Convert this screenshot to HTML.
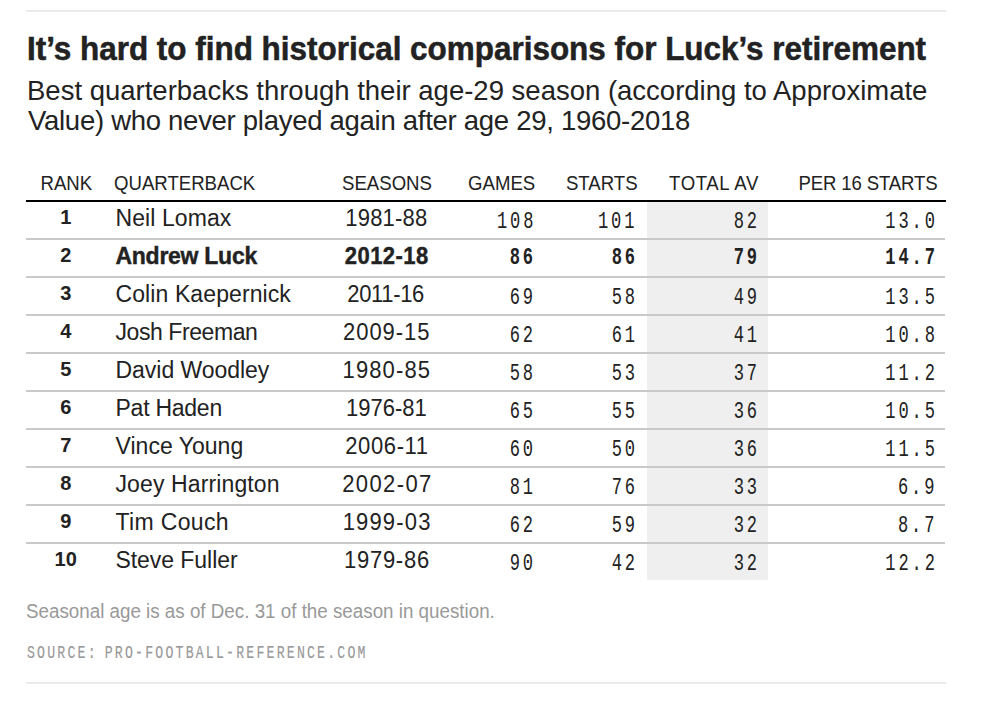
<!DOCTYPE html>
<html><head><meta charset="utf-8"><style>
html,body{margin:0;padding:0;background:#fff;}
body{width:982px;height:718px;position:relative;overflow:hidden;font-family:"Liberation Sans", sans-serif;}
.t{position:absolute;white-space:nowrap;line-height:normal;}
.r{position:absolute;}
</style></head><body>
<div class="r" style="left:26px;top:10px;width:920px;height:2px;background:#ebebeb"></div>
<div class="t" style="top:31.54px;font-size:31.45px;font-family:'Liberation Sans', sans-serif;font-weight:700;color:#222;left:27.00px;-webkit-text-stroke:0.5px #222;transform:scale(1,1.05);transform-origin:0 28.46px;">It’s hard to find historical comparisons for Luck’s retirement</div>
<div class="t" style="top:74.71px;font-size:27.5px;font-family:'Liberation Sans', sans-serif;font-weight:400;color:#222;left:27.00px;">Best quarterbacks through their age-29 season (according to Approximate</div>
<div class="t" style="top:104.71px;font-size:27.5px;font-family:'Liberation Sans', sans-serif;font-weight:400;color:#222;letter-spacing:-0.28px;left:28.00px;">Value) who never played again after age 29, 1960-2018</div>
<div class="r" style="left:647px;top:202px;width:121px;height:378px;background:#efefef"></div>
<div class="t" style="top:173.17px;font-size:18.6px;font-family:'Liberation Sans', sans-serif;font-weight:400;color:#222;left:-83.70px;width:300px;text-align:center;transform:scale(1,1.05);transform-origin:50% 16.83px;">RANK</div>
<div class="t" style="top:173.17px;font-size:18.6px;font-family:'Liberation Sans', sans-serif;font-weight:400;color:#222;left:114.00px;transform:scale(1,1.05);transform-origin:0 16.83px;">QUARTERBACK</div>
<div class="t" style="top:173.17px;font-size:18.6px;font-family:'Liberation Sans', sans-serif;font-weight:400;color:#222;left:237.00px;width:300px;text-align:center;transform:scale(1,1.05);transform-origin:50% 16.83px;">SEASONS</div>
<div class="t" style="top:173.17px;font-size:18.6px;font-family:'Liberation Sans', sans-serif;font-weight:400;color:#222;right:446.80px;text-align:right;transform:scale(1,1.05);transform-origin:100% 16.83px;">GAMES</div>
<div class="t" style="top:173.17px;font-size:18.6px;font-family:'Liberation Sans', sans-serif;font-weight:400;color:#222;right:344.40px;text-align:right;transform:scale(1,1.05);transform-origin:100% 16.83px;">STARTS</div>
<div class="t" style="top:173.17px;font-size:18.6px;font-family:'Liberation Sans', sans-serif;font-weight:400;color:#222;letter-spacing:0.6px;right:223.00px;text-align:right;transform:scale(1,1.05);transform-origin:100% 16.83px;">TOTAL AV</div>
<div class="t" style="top:173.17px;font-size:18.6px;font-family:'Liberation Sans', sans-serif;font-weight:400;color:#222;letter-spacing:-0.15px;right:44.60px;text-align:right;transform:scale(1,1.05);transform-origin:100% 16.83px;">PER 16 STARTS</div>
<div class="r" style="left:26px;top:200px;width:920px;height:2px;background:#000"></div>
<div class="r" style="left:26px;top:238px;width:919px;height:2px;background:#c9c9c9"></div>
<div class="r" style="left:26px;top:276px;width:919px;height:2px;background:#c9c9c9"></div>
<div class="r" style="left:26px;top:314px;width:919px;height:2px;background:#c9c9c9"></div>
<div class="r" style="left:26px;top:352px;width:919px;height:2px;background:#c9c9c9"></div>
<div class="r" style="left:26px;top:390px;width:919px;height:2px;background:#c9c9c9"></div>
<div class="r" style="left:26px;top:428px;width:919px;height:2px;background:#c9c9c9"></div>
<div class="r" style="left:26px;top:466px;width:919px;height:2px;background:#c9c9c9"></div>
<div class="r" style="left:26px;top:504px;width:919px;height:2px;background:#c9c9c9"></div>
<div class="r" style="left:26px;top:542px;width:919px;height:2px;background:#c9c9c9"></div>
<div class="t" style="top:205.90px;font-size:20px;font-family:'Liberation Sans', sans-serif;font-weight:700;color:#222;left:-84.30px;width:300px;text-align:center;">1</div>
<div class="t" style="top:205.19px;font-size:23.0px;font-family:'Liberation Sans', sans-serif;font-weight:400;color:#222;letter-spacing:0.078px;left:115.50px;">Neil Lomax</div>
<div class="t" style="top:206.09px;font-size:22px;font-family:'Liberation Sans', sans-serif;font-weight:400;color:#222;letter-spacing:0.22px;left:236.36px;width:300px;text-align:center;transform:scale(1,1.07);transform-origin:50% 19.91px;">1981-88</div>
<div class="t" style="top:211.26px;font-size:20.1px;font-family:'Liberation Mono', monospace;font-weight:400;color:#222;letter-spacing:3.4px;right:445.80px;text-align:right;transform:scale(0.85,1.15);transform-origin:100% 16.74px;">108</div>
<div class="t" style="top:211.26px;font-size:20.1px;font-family:'Liberation Mono', monospace;font-weight:400;color:#222;letter-spacing:3.4px;right:344.30px;text-align:right;transform:scale(0.85,1.15);transform-origin:100% 16.74px;">101</div>
<div class="t" style="top:211.26px;font-size:20.1px;font-family:'Liberation Mono', monospace;font-weight:400;color:#222;letter-spacing:3.4px;right:221.80px;text-align:right;transform:scale(0.85,1.15);transform-origin:100% 16.74px;">82</div>
<div class="t" style="top:211.26px;font-size:20.1px;font-family:'Liberation Mono', monospace;font-weight:400;color:#222;letter-spacing:3.4px;right:44.40px;text-align:right;transform:scale(0.85,1.15);transform-origin:100% 16.74px;">13.0</div>
<div class="t" style="top:243.90px;font-size:20px;font-family:'Liberation Sans', sans-serif;font-weight:700;color:#222;left:-84.30px;width:300px;text-align:center;">2</div>
<div class="t" style="top:243.19px;font-size:23.0px;font-family:'Liberation Sans', sans-serif;font-weight:700;color:#222;letter-spacing:-0.27px;left:115.50px;-webkit-text-stroke:0.4px #222;">Andrew Luck</div>
<div class="t" style="top:244.09px;font-size:22px;font-family:'Liberation Sans', sans-serif;font-weight:700;color:#222;letter-spacing:0.43px;left:236.72px;width:300px;text-align:center;-webkit-text-stroke:0.4px #222;transform:scale(1,1.07);transform-origin:50% 19.91px;">2012-18</div>
<div class="t" style="top:247.46px;font-size:20.1px;font-family:'Liberation Mono', monospace;font-weight:700;color:#222;letter-spacing:3.4px;right:445.80px;text-align:right;transform:scale(0.85,1.15);transform-origin:100% 16.74px;">86</div>
<div class="t" style="top:247.46px;font-size:20.1px;font-family:'Liberation Mono', monospace;font-weight:700;color:#222;letter-spacing:3.4px;right:344.30px;text-align:right;transform:scale(0.85,1.15);transform-origin:100% 16.74px;">86</div>
<div class="t" style="top:247.46px;font-size:20.1px;font-family:'Liberation Mono', monospace;font-weight:700;color:#222;letter-spacing:3.4px;right:221.80px;text-align:right;transform:scale(0.85,1.15);transform-origin:100% 16.74px;">79</div>
<div class="t" style="top:247.46px;font-size:20.1px;font-family:'Liberation Mono', monospace;font-weight:700;color:#222;letter-spacing:3.4px;right:44.40px;text-align:right;transform:scale(0.85,1.15);transform-origin:100% 16.74px;">14.7</div>
<div class="t" style="top:281.90px;font-size:20px;font-family:'Liberation Sans', sans-serif;font-weight:700;color:#222;left:-84.30px;width:300px;text-align:center;">3</div>
<div class="t" style="top:281.19px;font-size:23.0px;font-family:'Liberation Sans', sans-serif;font-weight:400;color:#222;letter-spacing:0.1px;left:115.50px;">Colin Kaepernick</div>
<div class="t" style="top:282.09px;font-size:22px;font-family:'Liberation Sans', sans-serif;font-weight:400;color:#222;letter-spacing:-0.35px;left:235.67px;width:300px;text-align:center;transform:scale(1,1.07);transform-origin:50% 19.91px;">2011-16</div>
<div class="t" style="top:287.26px;font-size:20.1px;font-family:'Liberation Mono', monospace;font-weight:400;color:#222;letter-spacing:3.4px;right:445.80px;text-align:right;transform:scale(0.85,1.15);transform-origin:100% 16.74px;">69</div>
<div class="t" style="top:287.26px;font-size:20.1px;font-family:'Liberation Mono', monospace;font-weight:400;color:#222;letter-spacing:3.4px;right:344.30px;text-align:right;transform:scale(0.85,1.15);transform-origin:100% 16.74px;">58</div>
<div class="t" style="top:287.26px;font-size:20.1px;font-family:'Liberation Mono', monospace;font-weight:400;color:#222;letter-spacing:3.4px;right:221.80px;text-align:right;transform:scale(0.85,1.15);transform-origin:100% 16.74px;">49</div>
<div class="t" style="top:287.26px;font-size:20.1px;font-family:'Liberation Mono', monospace;font-weight:400;color:#222;letter-spacing:3.4px;right:44.40px;text-align:right;transform:scale(0.85,1.15);transform-origin:100% 16.74px;">13.5</div>
<div class="t" style="top:319.90px;font-size:20px;font-family:'Liberation Sans', sans-serif;font-weight:700;color:#222;left:-84.30px;width:300px;text-align:center;">4</div>
<div class="t" style="top:319.19px;font-size:23.0px;font-family:'Liberation Sans', sans-serif;font-weight:400;color:#222;letter-spacing:-0.427px;left:115.50px;">Josh Freeman</div>
<div class="t" style="top:320.09px;font-size:22px;font-family:'Liberation Sans', sans-serif;font-weight:400;color:#222;letter-spacing:0.95px;left:236.72px;width:300px;text-align:center;transform:scale(1,1.07);transform-origin:50% 19.91px;">2009-15</div>
<div class="t" style="top:325.26px;font-size:20.1px;font-family:'Liberation Mono', monospace;font-weight:400;color:#222;letter-spacing:3.4px;right:445.80px;text-align:right;transform:scale(0.85,1.15);transform-origin:100% 16.74px;">62</div>
<div class="t" style="top:325.26px;font-size:20.1px;font-family:'Liberation Mono', monospace;font-weight:400;color:#222;letter-spacing:3.4px;right:344.30px;text-align:right;transform:scale(0.85,1.15);transform-origin:100% 16.74px;">61</div>
<div class="t" style="top:325.26px;font-size:20.1px;font-family:'Liberation Mono', monospace;font-weight:400;color:#222;letter-spacing:3.4px;right:221.80px;text-align:right;transform:scale(0.85,1.15);transform-origin:100% 16.74px;">41</div>
<div class="t" style="top:325.26px;font-size:20.1px;font-family:'Liberation Mono', monospace;font-weight:400;color:#222;letter-spacing:3.4px;right:44.40px;text-align:right;transform:scale(0.85,1.15);transform-origin:100% 16.74px;">10.8</div>
<div class="t" style="top:357.90px;font-size:20px;font-family:'Liberation Sans', sans-serif;font-weight:700;color:#222;left:-84.30px;width:300px;text-align:center;">5</div>
<div class="t" style="top:357.19px;font-size:23.0px;font-family:'Liberation Sans', sans-serif;font-weight:400;color:#222;letter-spacing:-0.033px;left:115.50px;">David Woodley</div>
<div class="t" style="top:358.09px;font-size:22px;font-family:'Liberation Sans', sans-serif;font-weight:400;color:#222;letter-spacing:1.1px;left:236.85px;width:300px;text-align:center;transform:scale(1,1.07);transform-origin:50% 19.91px;">1980-85</div>
<div class="t" style="top:363.26px;font-size:20.1px;font-family:'Liberation Mono', monospace;font-weight:400;color:#222;letter-spacing:3.4px;right:445.80px;text-align:right;transform:scale(0.85,1.15);transform-origin:100% 16.74px;">58</div>
<div class="t" style="top:363.26px;font-size:20.1px;font-family:'Liberation Mono', monospace;font-weight:400;color:#222;letter-spacing:3.4px;right:344.30px;text-align:right;transform:scale(0.85,1.15);transform-origin:100% 16.74px;">53</div>
<div class="t" style="top:363.26px;font-size:20.1px;font-family:'Liberation Mono', monospace;font-weight:400;color:#222;letter-spacing:3.4px;right:221.80px;text-align:right;transform:scale(0.85,1.15);transform-origin:100% 16.74px;">37</div>
<div class="t" style="top:363.26px;font-size:20.1px;font-family:'Liberation Mono', monospace;font-weight:400;color:#222;letter-spacing:3.4px;right:44.40px;text-align:right;transform:scale(0.85,1.15);transform-origin:100% 16.74px;">11.2</div>
<div class="t" style="top:395.90px;font-size:20px;font-family:'Liberation Sans', sans-serif;font-weight:700;color:#222;left:-84.30px;width:300px;text-align:center;">6</div>
<div class="t" style="top:395.19px;font-size:23.0px;font-family:'Liberation Sans', sans-serif;font-weight:400;color:#222;letter-spacing:-0.25px;left:115.50px;">Pat Haden</div>
<div class="t" style="top:396.09px;font-size:22px;font-family:'Liberation Sans', sans-serif;font-weight:400;color:#222;left:236.40px;width:300px;text-align:center;transform:scale(1,1.07);transform-origin:50% 19.91px;">1976-81</div>
<div class="t" style="top:401.26px;font-size:20.1px;font-family:'Liberation Mono', monospace;font-weight:400;color:#222;letter-spacing:3.4px;right:445.80px;text-align:right;transform:scale(0.85,1.15);transform-origin:100% 16.74px;">65</div>
<div class="t" style="top:401.26px;font-size:20.1px;font-family:'Liberation Mono', monospace;font-weight:400;color:#222;letter-spacing:3.4px;right:344.30px;text-align:right;transform:scale(0.85,1.15);transform-origin:100% 16.74px;">55</div>
<div class="t" style="top:401.26px;font-size:20.1px;font-family:'Liberation Mono', monospace;font-weight:400;color:#222;letter-spacing:3.4px;right:221.80px;text-align:right;transform:scale(0.85,1.15);transform-origin:100% 16.74px;">36</div>
<div class="t" style="top:401.26px;font-size:20.1px;font-family:'Liberation Mono', monospace;font-weight:400;color:#222;letter-spacing:3.4px;right:44.40px;text-align:right;transform:scale(0.85,1.15);transform-origin:100% 16.74px;">10.5</div>
<div class="t" style="top:433.90px;font-size:20px;font-family:'Liberation Sans', sans-serif;font-weight:700;color:#222;left:-84.30px;width:300px;text-align:center;">7</div>
<div class="t" style="top:433.19px;font-size:23.0px;font-family:'Liberation Sans', sans-serif;font-weight:400;color:#222;letter-spacing:0.02px;left:115.50px;">Vince Young</div>
<div class="t" style="top:434.09px;font-size:22px;font-family:'Liberation Sans', sans-serif;font-weight:400;color:#222;letter-spacing:0.62px;left:236.96px;width:300px;text-align:center;transform:scale(1,1.07);transform-origin:50% 19.91px;">2006-11</div>
<div class="t" style="top:439.26px;font-size:20.1px;font-family:'Liberation Mono', monospace;font-weight:400;color:#222;letter-spacing:3.4px;right:445.80px;text-align:right;transform:scale(0.85,1.15);transform-origin:100% 16.74px;">60</div>
<div class="t" style="top:439.26px;font-size:20.1px;font-family:'Liberation Mono', monospace;font-weight:400;color:#222;letter-spacing:3.4px;right:344.30px;text-align:right;transform:scale(0.85,1.15);transform-origin:100% 16.74px;">50</div>
<div class="t" style="top:439.26px;font-size:20.1px;font-family:'Liberation Mono', monospace;font-weight:400;color:#222;letter-spacing:3.4px;right:221.80px;text-align:right;transform:scale(0.85,1.15);transform-origin:100% 16.74px;">36</div>
<div class="t" style="top:439.26px;font-size:20.1px;font-family:'Liberation Mono', monospace;font-weight:400;color:#222;letter-spacing:3.4px;right:44.40px;text-align:right;transform:scale(0.85,1.15);transform-origin:100% 16.74px;">11.5</div>
<div class="t" style="top:471.90px;font-size:20px;font-family:'Liberation Sans', sans-serif;font-weight:700;color:#222;left:-84.30px;width:300px;text-align:center;">8</div>
<div class="t" style="top:471.19px;font-size:23.0px;font-family:'Liberation Sans', sans-serif;font-weight:400;color:#222;letter-spacing:0.121px;left:115.50px;">Joey Harrington</div>
<div class="t" style="top:472.09px;font-size:22px;font-family:'Liberation Sans', sans-serif;font-weight:400;color:#222;letter-spacing:1.38px;left:237.44px;width:300px;text-align:center;transform:scale(1,1.07);transform-origin:50% 19.91px;">2002-07</div>
<div class="t" style="top:477.26px;font-size:20.1px;font-family:'Liberation Mono', monospace;font-weight:400;color:#222;letter-spacing:3.4px;right:445.80px;text-align:right;transform:scale(0.85,1.15);transform-origin:100% 16.74px;">81</div>
<div class="t" style="top:477.26px;font-size:20.1px;font-family:'Liberation Mono', monospace;font-weight:400;color:#222;letter-spacing:3.4px;right:344.30px;text-align:right;transform:scale(0.85,1.15);transform-origin:100% 16.74px;">76</div>
<div class="t" style="top:477.26px;font-size:20.1px;font-family:'Liberation Mono', monospace;font-weight:400;color:#222;letter-spacing:3.4px;right:221.80px;text-align:right;transform:scale(0.85,1.15);transform-origin:100% 16.74px;">33</div>
<div class="t" style="top:477.26px;font-size:20.1px;font-family:'Liberation Mono', monospace;font-weight:400;color:#222;letter-spacing:3.4px;right:44.40px;text-align:right;transform:scale(0.85,1.15);transform-origin:100% 16.74px;">6.9</div>
<div class="t" style="top:509.90px;font-size:20px;font-family:'Liberation Sans', sans-serif;font-weight:700;color:#222;left:-84.30px;width:300px;text-align:center;">9</div>
<div class="t" style="top:509.19px;font-size:23.0px;font-family:'Liberation Sans', sans-serif;font-weight:400;color:#222;letter-spacing:0.35px;left:115.50px;">Tim Couch</div>
<div class="t" style="top:510.09px;font-size:22px;font-family:'Liberation Sans', sans-serif;font-weight:400;color:#222;letter-spacing:1.18px;left:237.14px;width:300px;text-align:center;transform:scale(1,1.07);transform-origin:50% 19.91px;">1999-03</div>
<div class="t" style="top:515.26px;font-size:20.1px;font-family:'Liberation Mono', monospace;font-weight:400;color:#222;letter-spacing:3.4px;right:445.80px;text-align:right;transform:scale(0.85,1.15);transform-origin:100% 16.74px;">62</div>
<div class="t" style="top:515.26px;font-size:20.1px;font-family:'Liberation Mono', monospace;font-weight:400;color:#222;letter-spacing:3.4px;right:344.30px;text-align:right;transform:scale(0.85,1.15);transform-origin:100% 16.74px;">59</div>
<div class="t" style="top:515.26px;font-size:20.1px;font-family:'Liberation Mono', monospace;font-weight:400;color:#222;letter-spacing:3.4px;right:221.80px;text-align:right;transform:scale(0.85,1.15);transform-origin:100% 16.74px;">32</div>
<div class="t" style="top:515.26px;font-size:20.1px;font-family:'Liberation Mono', monospace;font-weight:400;color:#222;letter-spacing:3.4px;right:44.40px;text-align:right;transform:scale(0.85,1.15);transform-origin:100% 16.74px;">8.7</div>
<div class="t" style="top:547.90px;font-size:20px;font-family:'Liberation Sans', sans-serif;font-weight:700;color:#222;left:-84.30px;width:300px;text-align:center;">10</div>
<div class="t" style="top:547.18px;font-size:23.0px;font-family:'Liberation Sans', sans-serif;font-weight:400;color:#222;letter-spacing:-0.055px;left:115.50px;">Steve Fuller</div>
<div class="t" style="top:548.09px;font-size:22px;font-family:'Liberation Sans', sans-serif;font-weight:400;color:#222;letter-spacing:0.75px;left:236.93px;width:300px;text-align:center;transform:scale(1,1.07);transform-origin:50% 19.91px;">1979-86</div>
<div class="t" style="top:553.26px;font-size:20.1px;font-family:'Liberation Mono', monospace;font-weight:400;color:#222;letter-spacing:3.4px;right:445.80px;text-align:right;transform:scale(0.85,1.15);transform-origin:100% 16.74px;">90</div>
<div class="t" style="top:553.26px;font-size:20.1px;font-family:'Liberation Mono', monospace;font-weight:400;color:#222;letter-spacing:3.4px;right:344.30px;text-align:right;transform:scale(0.85,1.15);transform-origin:100% 16.74px;">42</div>
<div class="t" style="top:553.26px;font-size:20.1px;font-family:'Liberation Mono', monospace;font-weight:400;color:#222;letter-spacing:3.4px;right:221.80px;text-align:right;transform:scale(0.85,1.15);transform-origin:100% 16.74px;">32</div>
<div class="t" style="top:553.26px;font-size:20.1px;font-family:'Liberation Mono', monospace;font-weight:400;color:#222;letter-spacing:3.4px;right:44.40px;text-align:right;transform:scale(0.85,1.15);transform-origin:100% 16.74px;">12.2</div>
<div class="t" style="top:600.69px;font-size:18.8px;font-family:'Liberation Sans', sans-serif;font-weight:400;color:#999;left:26.00px;transform:scale(1,1.06);transform-origin:0 17.01px;">Seasonal age is as of Dec. 31 of the season in question.</div>
<div class="t" style="top:643.86px;font-size:16.5px;font-family:'Liberation Mono', monospace;font-weight:400;color:#999;letter-spacing:2.74px;left:27.00px;-webkit-text-stroke:0.15px #999;transform:scale(0.8,1.1);transform-origin:0 13.74px;">SOURCE:<span style="word-spacing:-4px"> </span>PRO-FOOTBALL-REFERENCE.COM</div>
<div class="r" style="left:26px;top:682px;width:920px;height:2px;background:#ebebeb"></div>
</body></html>
